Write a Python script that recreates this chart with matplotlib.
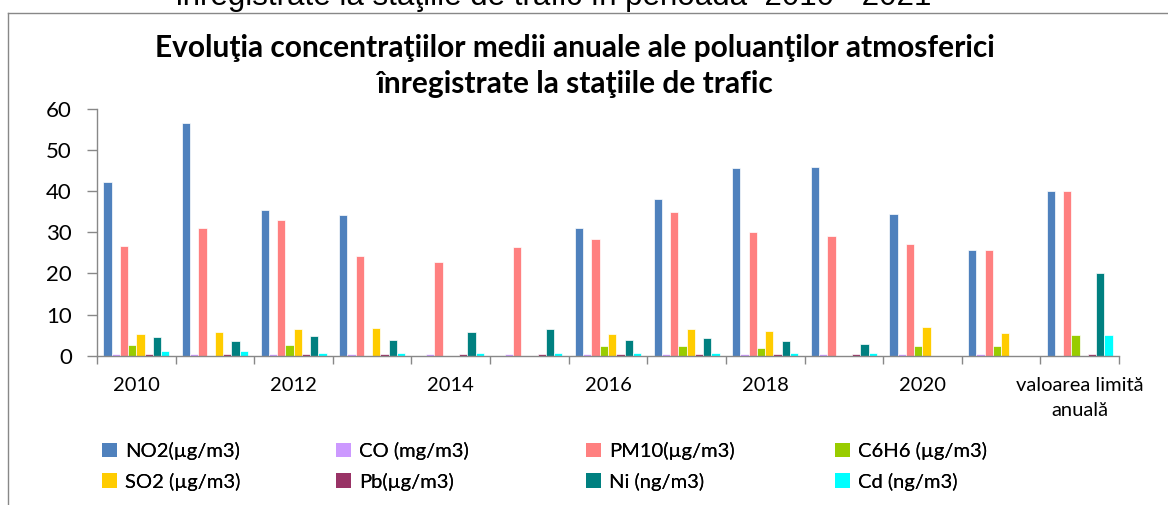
import matplotlib
matplotlib.use("Agg")
import matplotlib.pyplot as plt
from matplotlib.lines import Line2D
from matplotlib.patches import Patch
import numpy as np

# Categories and values, nan = no bar
categories = ["2010", "2011", "2012", "2013", "2014", "2015", "2016", "2017",
              "2018", "2019", "2020", "2021", "valoarea limită\nanuală"]
nan = np.nan
no2 = [42.2, 56.5, 35.4, 34.2, nan, nan, 31.0, 38.1, 45.6, 45.9, 34.4, 25.6, 40.0]
co = [0.4, 0.4, 0.4, 0.4, 0.4, 0.4, 0.4, 0.4, 0.4, 0.4, 0.4, 0.4, nan]
pm10 = [26.6, 31.0, 32.9, 24.2, 22.9, 26.4, 28.5, 35.0, 30.0, 29.1, 27.2, 25.6, 40.0]
c6h6 = [2.6, nan, 2.6, nan, nan, nan, 2.3, 2.3, 1.95, nan, 2.3, 2.3, 5.0]
so2 = [5.35, 5.8, 6.4, 6.7, nan, nan, 5.35, 6.4, 6.1, nan, 7.0, 5.4, nan]
pb = [0.4, 0.4, 0.4, 0.4, 0.4, 0.4, 0.4, 0.4, 0.4, 0.4, nan, nan, 0.5]
ni = [4.5, 3.6, 4.8, 3.9, 5.8, 6.4, 3.9, 4.2, 3.6, 2.9, nan, nan, 20.0]
cd = [1.1, 1.1, 0.65, 0.65, 0.65, 0.65, 0.65, 0.65, 0.65, 0.65, nan, nan, 5.0]

series = [no2, co, pm10, c6h6, so2, pb, ni, cd]
names = ["NO2(µg/m3)", "CO (mg/m3)", "PM10(µg/m3)", "C6H6 (µg/m3)",
         "SO2 (µg/m3)", "Pb(µg/m3)", "Ni (ng/m3)", "Cd (ng/m3)"]
colors = ["#4F81BD", "#CC99FF", "#FF8080", "#99CC00",
          "#FFCC00", "#993366", "#008080", "#00FFFF"]

font = ["Lato", "DejaVu Sans"]
plt.rcParams["font.family"] = font

fig = plt.figure(figsize=(11.68, 5.05), dpi=100)
ax = fig.add_axes([97 / 1168, 1 - 355.7 / 505, (1119 - 97) / 1168, (355.7 - 109) / 505])

x = np.arange(len(categories))
w = 0.105
bars = []
for i, (vals, col) in enumerate(zip(series, colors)):
    b = ax.bar(x + (i - 3.5) * w, vals, width=w, color=col,
               edgecolor="white", linewidth=0.5)
    bars.append(b)

ax.set_xlim(-0.5, len(categories) - 0.5)
ax.set_ylim(0, 60)
ax.set_yticks(range(0, 61, 10))
ax.tick_params(axis="y", length=7, width=1, color="#888888", pad=11,
               labelsize=16, labelcolor="#000000")

# tick marks between groups, labels every second group
ax.set_xticks(np.arange(-0.5, len(categories)), labels=[])
ax.tick_params(axis="x", which="major", length=6, width=1, color="#888888")
ax.set_xticks(x[::2], labels=[categories[k] for k in x[::2]], minor=True)
ax.tick_params(axis="x", which="minor", length=0, pad=15, labelsize=14.5)
for lbl in ax.get_xticklabels(minor=True):
    lbl.set_linespacing(1.6)
    lbl.set_verticalalignment("top")

for s in ["top", "right"]:
    ax.spines[s].set_visible(False)
for s in ["left", "bottom"]:
    ax.spines[s].set_color("#888888")
    ax.spines[s].set_linewidth(1)

# title
fig.text(575 / 1168, 1 - 48 / 505,
         "Evoluţia concentraţiilor medii anuale ale poluanţilor atmosferici",
         ha="center", va="center", fontsize=21.5, fontweight="bold")
fig.text(575 / 1168, 1 - 84 / 505, "înregistrate la staţiile de trafic",
         ha="center", va="center", fontsize=21.5, fontweight="bold")

# text cut at the top of the picture
fig.text(553 / 1168, 1 - 5 / 505,
         "înregistrate la staţiile de trafic în perioada  2010 - 2021",
         ha="center", va="baseline", fontsize=22.5, family="Liberation Sans")

# frame of the chart area
fig.add_artist(Line2D([8 / 1168, 8 / 1168], [0, 1 - 12.5 / 505],
                      transform=fig.transFigure, color="#888888", lw=1))
fig.add_artist(Line2D([8 / 1168, 1], [1 - 12.5 / 505, 1 - 12.5 / 505],
                      transform=fig.transFigure, color="#888888", lw=1))

# legend, one per column so the columns sit where they are in the original
col_x = [102, 336, 586, 835]
for c in range(4):
    handles = [Patch(facecolor=colors[c], edgecolor="none"),
               Patch(facecolor=colors[c + 4], edgecolor="none")]
    leg = fig.legend(handles, [names[c], names[c + 4]],
                     loc="upper left", bbox_to_anchor=(col_x[c] / 1168, 1 - 442 / 505),
                     frameon=False, fontsize=14.5, handlelength=0.75, handleheight=0.75,
                     handletextpad=0.4, labelspacing=0.62, borderpad=0, borderaxespad=0)
    fig.add_artist(leg)

fig.savefig("out.png", dpi=100, facecolor="white")
